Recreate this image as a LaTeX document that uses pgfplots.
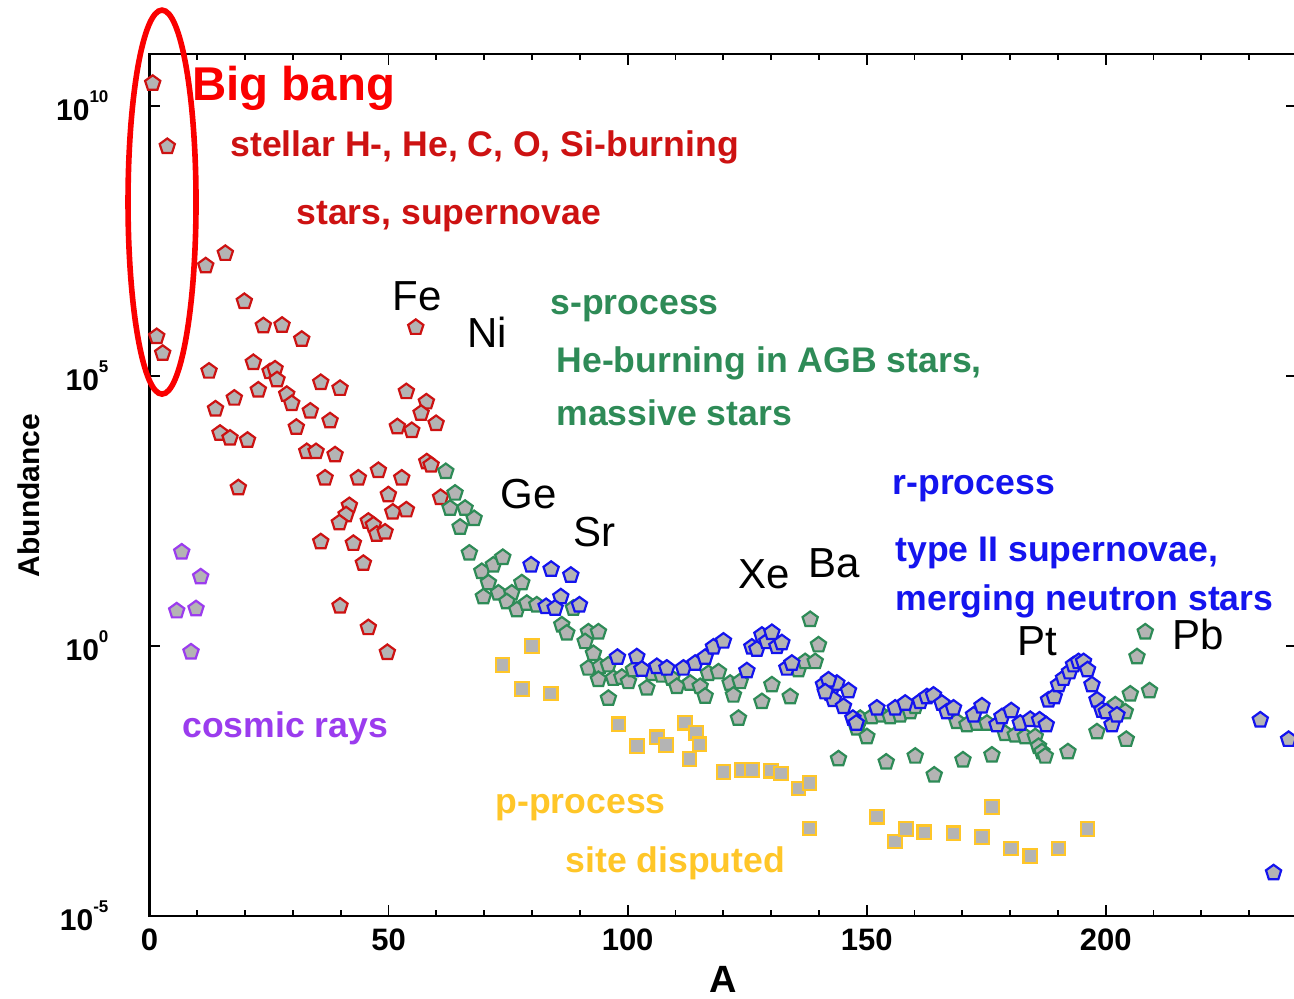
\documentclass[border=0pt]{standalone}
\usepackage{fontspec}
\setmainfont{Liberation Sans}
\usepackage{pgfplots}
\pgfplotsset{compat=1.18}
\usetikzlibrary{plotmarks}

\definecolor{bbred}{RGB}{250,0,0}
\definecolor{stred}{RGB}{205,18,18}
\definecolor{sgreen}{RGB}{46,139,87}
\definecolor{rblue}{RGB}{20,20,238}
\definecolor{cpurple}{RGB}{155,60,238}
\definecolor{pyellow}{RGB}{255,198,40}
\definecolor{mkgray}{RGB}{180,180,180}

\newcommand{\pw}[1]{\bfseries 10\raisebox{9pt}{\fontsize{8.5}{9}\selectfont\bfseries #1}}
\newcommand{\lab}{\fontsize{17.8}{20}\selectfont\bfseries}
\newcommand{\elem}[3]{%
  \node[anchor=base west, inner sep=0pt, font=\fontsize{21}{24}\selectfont, text=black] at (axis cs:#1,#2) {#3};}

\pgfplotsset{abund/.style={only marks, mark=pentagon*, mark size=4pt, line width=1pt,
  mark options={fill=mkgray, draw=#1, line width=1.1pt}}}

\begin{document}
\begin{tikzpicture}
\begin{axis}[
  scale only axis, width=573.75pt, height=431pt,
  xmin=0, xmax=240, ymin=-5, ymax=10.963,
  clip=false,
  axis line style={line width=1.1pt, black},
  xtick={0,50,100,150,200}, xticklabels={0,50,100,150,200},
  minor xtick={10,20,30,40,60,70,80,90,110,120,130,140,160,170,180,190,210,220,230},
  ytick={-5,0,5,10}, yticklabels={\pw{-5},\pw{0},\pw{5},\pw{10}},
  major tick length=5.5pt, minor tick length=3pt,
  tick style={line width=0.9pt, black},
  xticklabel style={font=\fontsize{15.5}{16}\selectfont\bfseries, yshift=-3pt},
  yticklabel style={font=\fontsize{15}{16}\selectfont\bfseries, anchor=east, xshift=-17pt},
  xlabel={A}, ylabel={Abundance},
  xlabel style={font=\fontsize{19}{20}\selectfont\bfseries, at={(axis description cs:0.5,-0.0885)}, anchor=base},
  ylabel style={font=\fontsize{15}{16}\selectfont\bfseries, at={(axis description cs:-0.0959,0.488)}, anchor=base},
]
% stellar burning (red)
\addplot[abund=stred] coordinates {
(0.67,10.42)(3.72,9.25)(1.51,5.73)(2.76,5.42)(11.76,7.04)(15.86,7.27)(19.83,6.38)(23.81,5.93)(27.72,5.94)(31.84,5.68)(55.69,5.90)(12.45,5.09)(17.74,4.59)(21.72,5.25)(25.21,5.08)(26.26,5.13)(26.67,4.93)(22.76,4.74)(28.70,4.66)(29.75,4.49)(35.82,4.88)(39.85,4.77)(53.72,4.71)(57.91,4.52)(56.80,4.31)(51.84,4.06)(54.85,3.99)(59.94,4.12)(13.81,4.39)(33.64,4.35)(37.76,4.17)(30.71,4.05)(14.75,3.94)(16.84,3.85)(20.50,3.81)(32.89,3.60)(34.83,3.60)(38.81,3.54)(57.99,3.41)(58.89,3.35)(18.58,2.93)(36.72,3.11)(43.68,3.11)(47.87,3.25)(52.76,3.11)(60.88,2.75)(49.96,2.80)(41.80,2.60)(41.11,2.43)(39.71,2.28)(50.88,2.48)(53.72,2.52)(45.77,2.31)(46.82,2.24)(47.53,2.07)(49.27,2.11)(35.82,1.93)(42.64,1.90)(44.73,1.53)(39.85,0.74)(45.77,0.34)(49.75,-0.12)
};
% s-process (green)
\addplot[abund=sgreen] coordinates {
(61.97,3.23)(63.91,2.83)(62.87,2.55)(66.00,2.55)(67.89,2.36)(64.96,2.20)(66.90,1.72)(69.50,1.38)(71.92,1.50)(73.89,1.64)(70.88,1.17)(69.83,0.91)(72.97,0.98)(77.87,1.17)(75.77,0.98)(74.73,0.82)(76.82,0.67)(78.91,0.79)(81.00,0.76)(88.66,0.70)(86.23,0.39)(87.28,0.24)(91.80,0.26)(93.89,0.26)(91.11,0.08)(92.85,-0.14)(91.80,-0.41)(94.25,-0.38)(95.98,-0.35)(93.89,-0.62)(97.03,-0.60)(98.79,-0.58)(100.17,-0.66)(101.21,-0.44)(95.98,-0.97)(104.02,-0.78)(105.06,-0.51)(107.15,-0.54)(109.25,-0.60)(110.29,-0.75)(113.08,-0.69)(115.17,-0.75)(116.21,-0.93)(116.90,-0.51)(119.00,-0.48)(121.44,-0.69)(122.13,-0.91)(123.54,-0.66)(123.18,-1.34)(128.08,-1.03)(130.17,-0.72)(134.00,-0.94)(135.73,-0.44)(137.13,-0.29)(139.23,-0.29)(139.92,0.02)(138.18,0.49)(144.10,-2.09)(154.08,-2.15)(148.64,-1.34)(147.95,-1.52)(150.04,-1.68)(151.09,-1.31)(153.18,-1.28)(154.92,-1.31)(157.01,-1.28)(159.10,-1.22)(160.15,-1.12)(168.87,-1.40)(170.96,-1.46)(173.05,-1.43)(175.15,-1.43)(178.97,-1.62)(181.07,-1.65)(183.16,-1.68)(185.25,-1.68)(185.94,-1.86)(186.65,-1.96)(187.34,-2.04)(160.15,-2.04)(164.12,-2.39)(170.13,-2.11)(176.19,-2.02)(192.09,-1.96)(198.16,-1.59)(201.99,-1.09)(204.08,-1.22)(205.13,-0.89)(209.16,-0.83)(204.29,-1.73)(206.53,-0.20)(208.26,0.26)
};
% r-process (blue)
\addplot[abund=rblue] coordinates {
(79.81,1.50)(84.00,1.42)(88.12,1.31)(86.03,0.91)(82.95,0.73)(84.83,0.70)(89.92,0.76)(97.87,-0.21)(101.92,-0.20)(102.97,-0.43)(106.11,-0.38)(108.20,-0.41)(111.67,-0.41)(114.12,-0.32)(116.21,-0.21)(117.95,-0.02)(120.04,0.09)(124.94,-0.46)(125.98,-0.02)(127.03,-0.06)(128.08,0.20)(129.12,0.08)(130.17,0.25)(131.21,-0.01)(132.26,0.06)(133.31,-0.41)(134.35,-0.32)(140.96,-0.72)(142.36,-0.88)(143.76,-0.69)(143.05,-0.99)(145.15,-1.12)(142.01,-0.63)(146.19,-0.83)(141.32,-0.85)(147.11,-1.34)(147.80,-1.43)(152.13,-1.15)(155.96,-1.15)(158.05,-1.06)(161.19,-1.03)(162.59,-0.94)(163.97,-0.91)(165.73,-1.06)(166.78,-1.22)(168.16,-1.15)(172.34,-1.28)(174.10,-1.11)(177.24,-1.46)(178.28,-1.31)(180.23,-1.20)(182.11,-1.43)(184.21,-1.36)(186.15,-1.37)(187.55,-1.46)(188.03,-1.00)(189.23,-0.94)(190.13,-0.72)(191.17,-0.60)(192.43,-0.48)(193.26,-0.35)(194.31,-0.29)(195.36,-0.29)(196.19,-0.44)(197.11,-0.72)(198.16,-1.00)(199.20,-1.19)(200.10,-1.22)(201.30,-1.46)(202.34,-1.28)(232.32,-1.37)(238.24,-1.73)(235.10,-4.20)
};
% p-process (yellow)
\addplot[only marks, mark=square*, mark size=3.4pt, mark options={fill=mkgray, draw=pyellow, line width=1.1pt}] coordinates {
(79.96,0.00)(73.81,-0.35)(77.87,-0.80)(83.93,-0.88)(98.08,-1.45)(101.92,-1.85)(106.11,-1.69)(108.05,-1.83)(112.03,-1.42)(114.33,-1.61)(115.02,-1.82)(112.93,-2.09)(120.04,-2.33)(123.89,-2.30)(125.98,-2.30)(130.02,-2.31)(132.11,-2.36)(135.73,-2.64)(138.03,-2.54)(138.03,-3.38)(152.13,-3.16)(155.96,-3.62)(158.26,-3.39)(162.03,-3.45)(168.16,-3.47)(174.10,-3.54)(176.19,-2.98)(180.17,-3.75)(184.21,-3.89)(190.13,-3.75)(196.19,-3.39)
};
% cosmic rays (purple)
\addplot[abund=cpurple] coordinates {
(6.74,1.74)(10.71,1.28)(5.69,0.65)(9.73,0.69)(8.68,-0.11)
};

\draw[bbred, line width=2.8pt] (axis cs:2.62,8.22) ellipse [x radius=17pt, y radius=96pt];
\node[anchor=base west, inner sep=0pt, font=\fontsize{23.7}{26}\selectfont\bfseries, text=bbred] at (axis cs:8.89,10.11) {Big bang};
\node[anchor=base west, inner sep=0pt, font=\lab, text=stred] at (axis cs:16.84,9.06) {stellar H-, He, C, O, Si-burning};
\node[anchor=base west, inner sep=0pt, font=\lab, text=stred] at (axis cs:30.65,7.81) {stars, supernovae};
\node[anchor=base west, inner sep=0pt, font=\lab, text=sgreen] at (axis cs:83.79,6.13) {s-process};
\node[anchor=base west, inner sep=0pt, font=\lab, text=sgreen] at (axis cs:85.04,5.06) {He-burning in AGB stars,};
\node[anchor=base west, inner sep=0pt, font=\lab, text=sgreen] at (axis cs:85.04,4.09) {massive stars};
\node[anchor=base west, inner sep=0pt, font=\lab, text=rblue] at (axis cs:155.33,2.81) {r-process};
\node[anchor=base west, inner sep=0pt, font=\lab, text=rblue] at (axis cs:155.96,1.56) {type II supernovae,};
\node[anchor=base west, inner sep=0pt, font=\lab, text=rblue] at (axis cs:155.96,0.66) {merging neutron stars};
\node[anchor=base west, inner sep=0pt, font=\lab, text=cpurple] at (axis cs:6.80,-1.69) {cosmic rays};
\node[anchor=base west, inner sep=0pt, font=\lab, text=pyellow] at (axis cs:72.28,-3.10) {p-process};
\node[anchor=base west, inner sep=0pt, font=\lab, text=pyellow] at (axis cs:86.92,-4.20) {site disputed};
\elem{50.73}{6.22}{Fe}
\elem{66.42}{5.52}{Ni}
\elem{73.33}{2.54}{Ge}
\elem{88.60}{1.84}{Sr}
\elem{123.12}{1.07}{Xe}
\elem{137.76}{1.26}{Ba}
\elem{181.49}{-0.17}{Pt}
\elem{213.91}{-0.07}{Pb}
\end{axis}
\pgfresetboundingbox
\useasboundingbox (-74.75pt,-41.5pt) rectangle (572.25pt,458pt);
\end{tikzpicture}
\end{document}
